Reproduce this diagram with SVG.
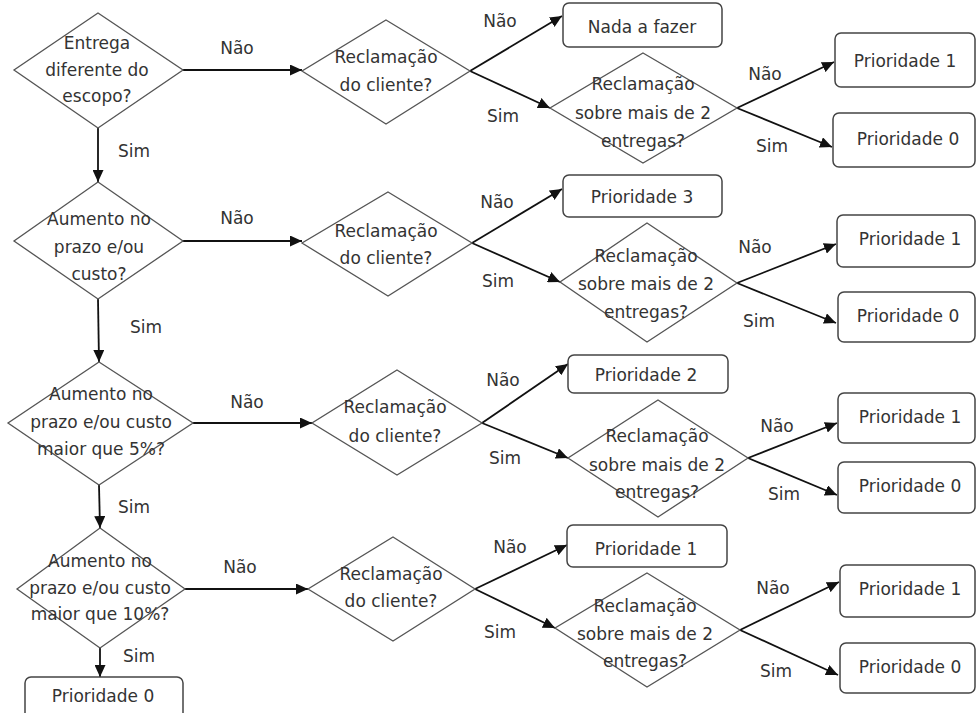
<svg xmlns="http://www.w3.org/2000/svg" width="977" height="713" viewBox="0 0 977 713">
<style>
.d{fill:#fff;stroke:#555;stroke-width:1.3}
.b{fill:#fff;stroke:#444;stroke-width:1.5}
.t{font-family:"DejaVu Sans","Liberation Sans",sans-serif;font-size:17px;fill:#333;text-anchor:middle}
.c{stroke:#111;stroke-width:1.8;fill:none;marker-end:url(#ah)}
</style>
<defs>
<marker id="ah" markerUnits="userSpaceOnUse" markerWidth="13" markerHeight="11" refX="12" refY="5.5" orient="auto">
<path d="M0,0 L12,5.5 L0,11 z" fill="#111"/>
</marker>
</defs>
<rect width="977" height="713" fill="#fff"/>
<g id="connectors">
<line class="c" x1="183" y1="70" x2="302" y2="70"/>
<line class="c" x1="183" y1="241" x2="302" y2="241"/>
<line class="c" x1="193" y1="423" x2="312" y2="423"/>
<line class="c" x1="185" y1="589" x2="308" y2="589"/>
<line class="c" x1="98" y1="128" x2="98" y2="182"/>
<line class="c" x1="98" y1="299" x2="99" y2="362"/>
<line class="c" x1="99" y1="485" x2="100" y2="528"/>
<line class="c" x1="100" y1="648" x2="100" y2="677"/>
<line class="c" x1="470" y1="71" x2="562" y2="16"/>
<line class="c" x1="470" y1="71" x2="550" y2="108"/>
<line class="c" x1="472" y1="243" x2="562" y2="189"/>
<line class="c" x1="472" y1="243" x2="560" y2="282"/>
<line class="c" x1="482" y1="423" x2="568" y2="364"/>
<line class="c" x1="482" y1="423" x2="568" y2="458"/>
<line class="c" x1="475" y1="589" x2="567" y2="545"/>
<line class="c" x1="475" y1="589" x2="555" y2="628"/>
<line class="c" x1="737" y1="108" x2="834" y2="62"/>
<line class="c" x1="737" y1="108" x2="832" y2="147"/>
<line class="c" x1="737" y1="283" x2="836" y2="244"/>
<line class="c" x1="737" y1="283" x2="836" y2="323"/>
<line class="c" x1="748" y1="458" x2="837" y2="423"/>
<line class="c" x1="748" y1="458" x2="837" y2="495"/>
<line class="c" x1="740" y1="630" x2="839" y2="582"/>
<line class="c" x1="740" y1="630" x2="838" y2="675"/>
<g class="t">
<text x="237" y="54">Não</text>
<text x="237" y="224">Não</text>
<text x="247" y="408">Não</text>
<text x="240" y="573">Não</text>
<text x="134" y="157">Sim</text>
<text x="146" y="333">Sim</text>
<text x="134" y="513">Sim</text>
<text x="139" y="662">Sim</text>
<text x="500" y="27">Não</text>
<text x="497" y="208">Não</text>
<text x="503" y="386">Não</text>
<text x="510" y="553">Não</text>
<text x="503" y="122">Sim</text>
<text x="498" y="287">Sim</text>
<text x="505" y="464">Sim</text>
<text x="500" y="638">Sim</text>
<text x="765" y="80">Não</text>
<text x="755" y="253">Não</text>
<text x="777" y="432">Não</text>
<text x="773" y="594">Não</text>
<text x="772" y="152">Sim</text>
<text x="759" y="327">Sim</text>
<text x="784" y="500">Sim</text>
<text x="776" y="677">Sim</text>
</g>
</g>
<g id="d1"><polygon class="d" points="98,13 183,70 98,128 14,70"/><text class="t" x="97" y="49">Entrega</text><text class="t" x="97" y="76">diferente do</text><text class="t" x="97" y="102">escopo?</text></g>
<g id="d2"><polygon class="d" points="98,182 183,241 98,299 14,241"/><text class="t" x="99" y="225">Aumento no</text><text class="t" x="99" y="253">prazo e/ou</text><text class="t" x="99" y="280">custo?</text></g>
<g id="d3"><polygon class="d" points="99,362 193,423 99,485 8,423"/><text class="t" x="101" y="400">Aumento no</text><text class="t" x="101" y="428">prazo e/ou custo</text><text class="t" x="101" y="455">maior que 5%?</text></g>
<g id="d4"><polygon class="d" points="100,528 185,589 100,648 17,589"/><text class="t" x="100" y="567">Aumento no</text><text class="t" x="100" y="594">prazo e/ou custo</text><text class="t" x="100" y="620">maior que 10%?</text></g>
<g id="p0final"><rect class="b" x="25" y="677" width="158" height="45" rx="6"/><text class="t" x="103" y="702">Prioridade 0</text></g>
<g id="m1"><polygon class="d" points="386,20 470,71 386,124 302,71"/><text class="t" x="386" y="63">Reclamação</text><text class="t" x="386" y="91">do cliente?</text></g>
<g id="m2"><polygon class="d" points="388,192 472,243 388,296 302,243"/><text class="t" x="386" y="237">Reclamação</text><text class="t" x="386" y="264">do cliente?</text></g>
<g id="m3"><polygon class="d" points="397,370 482,423 397,475 312,423"/><text class="t" x="395" y="413">Reclamação</text><text class="t" x="395" y="442">do cliente?</text></g>
<g id="m4"><polygon class="d" points="393,537 475,589 393,641 308,589"/><text class="t" x="391" y="580">Reclamação</text><text class="t" x="391" y="607">do cliente?</text></g>
<g id="b1"><rect class="b" x="563" y="3" width="159" height="44" rx="6"/><text class="t" x="642" y="33">Nada a fazer</text></g>
<g id="b2"><rect class="b" x="563" y="175" width="159" height="42" rx="6"/><text class="t" x="642" y="203">Prioridade 3</text></g>
<g id="b3"><rect class="b" x="568" y="355" width="160" height="38" rx="6"/><text class="t" x="646" y="381">Prioridade 2</text></g>
<g id="b4"><rect class="b" x="567" y="525" width="160" height="42" rx="6"/><text class="t" x="646" y="555">Prioridade 1</text></g>
<g id="r1"><polygon class="d" points="643,53 737,108 643,163 550,108"/><text class="t" x="643" y="90">Reclamação</text><text class="t" x="643" y="119">sobre mais de 2</text><text class="t" x="643" y="147">entregas?</text></g>
<g id="r2"><polygon class="d" points="647,223 737,283 647,342 560,282"/><text class="t" x="646" y="262">Reclamação</text><text class="t" x="646" y="290">sobre mais de 2</text><text class="t" x="646" y="318">entregas?</text></g>
<g id="r3"><polygon class="d" points="658,400 748,458 658,517 568,458"/><text class="t" x="657" y="442">Reclamação</text><text class="t" x="657" y="471">sobre mais de 2</text><text class="t" x="657" y="498">entregas?</text></g>
<g id="r4"><polygon class="d" points="647,573 740,630 647,687 555,628"/><text class="t" x="645" y="612">Reclamação</text><text class="t" x="645" y="640">sobre mais de 2</text><text class="t" x="645" y="667">entregas?</text></g>
<g id="o1a"><rect class="b" x="835" y="33" width="140" height="54" rx="6"/><text class="t" x="905" y="67">Prioridade 1</text></g>
<g id="o1b"><rect class="b" x="833" y="113" width="142" height="54" rx="6"/><text class="t" x="908" y="145">Prioridade 0</text></g>
<g id="o2a"><rect class="b" x="837" y="215" width="138" height="52" rx="6"/><text class="t" x="910" y="245">Prioridade 1</text></g>
<g id="o2b"><rect class="b" x="838" y="292" width="137" height="50" rx="6"/><text class="t" x="908" y="322">Prioridade 0</text></g>
<g id="o3a"><rect class="b" x="838" y="393" width="137" height="50" rx="6"/><text class="t" x="910" y="423">Prioridade 1</text></g>
<g id="o3b"><rect class="b" x="838" y="462" width="137" height="51" rx="6"/><text class="t" x="910" y="492">Prioridade 0</text></g>
<g id="o4a"><rect class="b" x="840" y="565" width="135" height="52" rx="6"/><text class="t" x="910" y="595">Prioridade 1</text></g>
<g id="o4b"><rect class="b" x="840" y="643" width="135" height="50" rx="6"/><text class="t" x="910" y="673">Prioridade 0</text></g>
</svg>
